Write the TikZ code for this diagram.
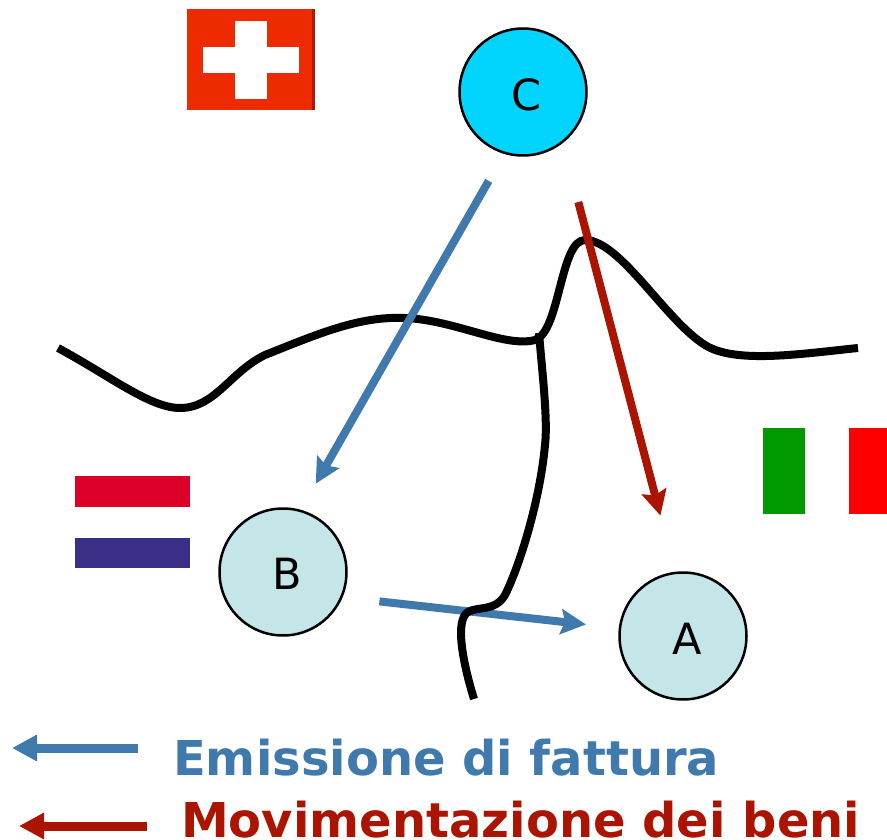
\documentclass[tikz,border=0pt]{standalone}
\usepackage{fontspec}
\setsansfont{DejaVu Sans}
\usetikzlibrary{arrows.meta}
\definecolor{cfill}{RGB}{0,212,255}
\definecolor{abfill}{RGB}{196,230,233}
\definecolor{invblue}{RGB}{64,122,172}
\definecolor{goodred}{RGB}{170,20,0}
\definecolor{chred}{RGB}{238,42,0}
\definecolor{chdark}{RGB}{170,25,0}
\definecolor{nlred}{RGB}{220,0,40}
\definecolor{nlblue}{RGB}{58,47,134}
\definecolor{itgreen}{RGB}{0,154,0}
\definecolor{itred}{RGB}{255,0,0}
\begin{document}
\begin{tikzpicture}[x=1pt,y=-1pt,
  party/.style={circle,draw=black,line width=2.5pt,minimum size=127pt,inner sep=0pt},
  lbl/.style={font=\sffamily\fontsize{43}{43}\selectfont,inner sep=0pt},
  border/.style={draw=black,line width=8pt,line join=round},
  invoice/.style={draw=invblue,line width=8pt,-{Stealth[length=25pt,width=25pt,inset=4pt]}},
  goods/.style={draw=goodred,line width=8pt,-{Stealth[length=25pt,width=25pt,inset=4pt]}},
  legarrow/.style={line width=9pt,-{Triangle[length=25pt,width=25pt]}},
  legtext/.style={font=\sffamily\bfseries\fontsize{48}{48}\selectfont,anchor=base west,inner sep=0pt}
]
\useasboundingbox (0,0) rectangle (887,840);

% flags
\fill[chred] (187,9) rectangle (315,110);
\fill[chdark] (312,9) rectangle (315,110);
\fill[white] (203,47) rectangle (299,73);
\fill[white] (235,21) rectangle (267,99);
\fill[nlred] (75,476) rectangle (190,507);
\fill[nlblue] (75,538) rectangle (190,568);
\fill[itgreen] (763,428) rectangle (805,514);
\fill[itred] (849,428) rectangle (887,514);

% parties
\node[party,fill=cfill,label={[lbl,xshift=4pt,yshift=-3pt]center:C}] (C) at (523,92) {};
\node[party,fill=abfill,label={[lbl,xshift=4pt,yshift=-2pt]center:B}] (B) at (283,572) {};
\node[party,fill=abfill,label={[lbl,xshift=4pt,yshift=-3pt]center:A}] (A) at (683,636) {};

% invoice B -> A (under the border)
\draw[invoice,shorten <=37pt,shorten >=33pt] (B.-23) -- (A.173);

% borders
\draw[border] (58,348) .. controls (110,376) and (150,408) .. (180,408)
  .. controls (215,408) and (230,372) .. (265,355)
  .. controls (320,333) and (360,316) .. (405,318)
  .. controls (455,320) and (505,348) .. (535,340)
  .. controls (560,332) and (560,240) .. (585,240)
  .. controls (620,240) and (665,320) .. (705,345)
  .. controls (735,364) and (800,354) .. (858,348);
\draw[border] (539,333) .. controls (542,370) and (548,420) .. (545,445)
  .. controls (540,500) and (520,565) .. (505,595)
  .. controls (495,612) and (478,606) .. (468,612)
  .. controls (455,620) and (462,660) .. (474,699);

% invoice C -> B, goods C -> A
\draw[invoice,shorten <=31pt,shorten >=30pt] (C.-107) -- (B.74);
\draw[goods,shorten <=61pt,shorten >=58pt] (C.-52) -- (A.97);

% legend
\coordinate (lb1) at (138,748);
\coordinate (lb2) at (12,748);
\coordinate (lr1) at (147,826);
\coordinate (lr2) at (19,826);
\draw[legarrow,draw=invblue,fill=invblue] (lb1) -- (lb2);
\draw[legarrow,draw=goodred,fill=goodred] (lr1) -- (lr2);
\node[legtext,text=invblue] (t1) at (173,775) {Emissione di fattura};
\node[legtext,text=goodred] (t2) at (181,837) {Movimentazione dei beni};
\end{tikzpicture}
\end{document}
